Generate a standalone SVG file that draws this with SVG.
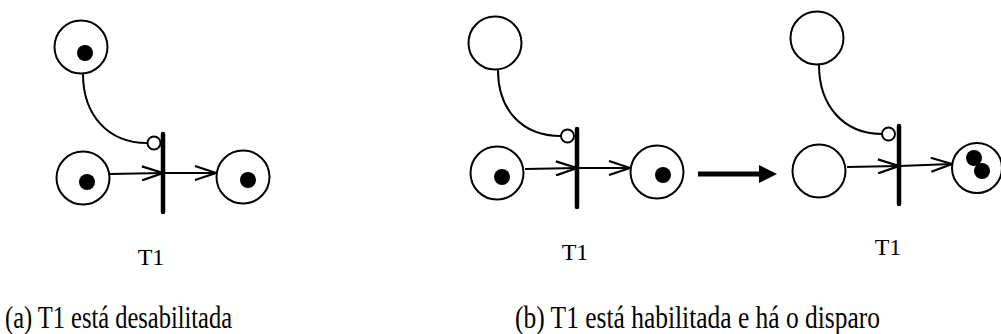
<svg xmlns="http://www.w3.org/2000/svg" width="1001" height="334" viewBox="0 0 1001 334">
<style>
.place{fill:#fff;stroke:#000;stroke-width:2}
.tok{fill:#000}
.inh{fill:#fff;stroke:#000;stroke-width:2}
.bar{stroke:#000;stroke-width:4.5;stroke-linecap:round}
.arc{fill:none;stroke:#000;stroke-width:2}
.lbl{font-family:"Liberation Serif","Times New Roman",serif;font-size:24px;fill:#000}
.cap{font-family:"Liberation Serif","Times New Roman",serif;font-size:31px;fill:#000}
</style>
<defs>
<marker id="v" viewBox="0 0 24 16" refX="22" refY="8" markerWidth="24" markerHeight="16" markerUnits="userSpaceOnUse" orient="auto">
<path d="M1,1 L22,8 L1,15" fill="none" stroke="#000" stroke-width="2.2"/>
</marker>
</defs>
<g id="connectors">
<path class="arc" d="M83,74 C83,115 108,143 147,143"/>
<path class="arc" d="M110,174 L163,173" marker-end="url(#v)"/>
<path class="arc" d="M163,173 L216,173" marker-end="url(#v)"/>
<path class="arc" d="M498,70 C498,110 522,136 561,136"/>
<path class="arc" d="M525,169 L577,168" marker-end="url(#v)"/>
<path class="arc" d="M577,168 L630,168" marker-end="url(#v)"/>
<path class="arc" d="M819,65 C819,105 843,134 882,134"/>
<path class="arc" d="M847,167 L899,166" marker-end="url(#v)"/>
<path class="arc" d="M899,166 L952,164" marker-end="url(#v)"/>
<line x1="698" y1="174" x2="762" y2="174" stroke="#000" stroke-width="5"/>
<polygon points="759,165 777,174 759,183" fill="#000"/>
</g>
<g id="a-P1"><circle class="place" cx="81" cy="47" r="26.5"/><circle class="tok" cx="85" cy="53" r="8"/></g>
<g id="a-P2"><circle class="place" cx="83" cy="178" r="26.5"/><circle class="tok" cx="87" cy="182" r="8"/></g>
<g id="a-P3"><circle class="place" cx="243" cy="177" r="26.5"/><circle class="tok" cx="248" cy="180" r="8"/></g>
<g id="a-T1"><circle class="inh" cx="154" cy="143" r="6.5"/><line class="bar" x1="163" y1="134" x2="163" y2="212"/></g>
<g id="b1-P1"><circle class="place" cx="495" cy="43" r="26.5"/></g>
<g id="b1-P2"><circle class="place" cx="497" cy="173" r="26.5"/><circle class="tok" cx="502" cy="177" r="8"/></g>
<g id="b1-P3"><circle class="place" cx="657" cy="172" r="26.5"/><circle class="tok" cx="663" cy="175" r="8"/></g>
<g id="b1-T1"><circle class="inh" cx="567.5" cy="136" r="6.5"/><line class="bar" x1="577" y1="129" x2="577" y2="207"/></g>
<g id="b2-P1"><circle class="place" cx="817" cy="38" r="26.5"/></g>
<g id="b2-P2"><circle class="place" cx="819" cy="171" r="26.5"/></g>
<g id="b2-P3"><circle class="place" cx="977" cy="168" r="25"/><circle class="tok" cx="974" cy="158" r="8"/><circle class="tok" cx="982" cy="171" r="8"/></g>
<g id="b2-T1"><circle class="inh" cx="888.5" cy="134" r="6.5"/><line class="bar" x1="899" y1="126" x2="899" y2="204"/></g>
<g id="labels">
<text class="lbl" x="151" y="265" text-anchor="middle">T1</text>
<text class="lbl" x="575" y="260" text-anchor="middle">T1</text>
<text class="lbl" x="888" y="255" text-anchor="middle">T1</text>
<text class="cap" x="5" y="328" textLength="227" lengthAdjust="spacingAndGlyphs">(a) T1 está desabilitada</text>
<text class="cap" x="515" y="328" textLength="365" lengthAdjust="spacingAndGlyphs">(b) T1 está habilitada e há o disparo</text>
</g>
</svg>
